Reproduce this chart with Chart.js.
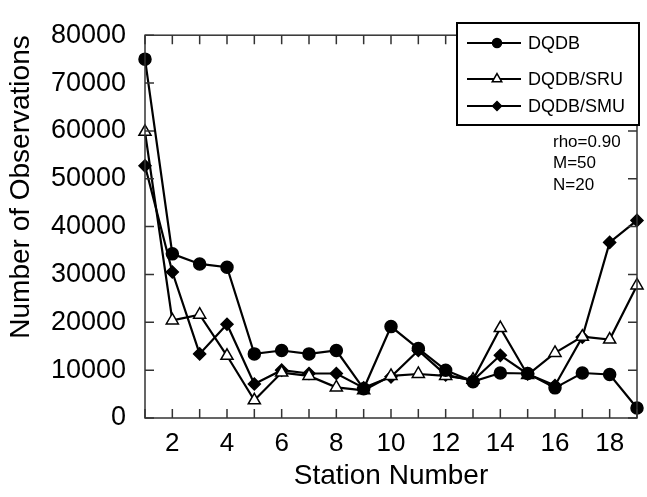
<!DOCTYPE html>
<html lang="en">
<head>
    <meta charset="UTF-8">
    <title>Number of Observations</title>
    <script src="https://cdn.jsdelivr.net/npm/chart.js"></script>
    <style>
        body { margin: 0; background: #ffffff; }
        #wrap { width: 647px; height: 497px; }
    </style>
</head>
<body>
    <div id="wrap"><canvas id="chart" width="647" height="497"></canvas></div>
    <script>
        const stations = [1, 2, 3, 4, 5, 6, 7, 8, 9, 10, 11, 12, 13, 14, 15, 16, 17, 18, 19];
        const dqdb = [75000, 34300, 32200, 31500, 13400, 14100, 13400, 14100, 6100, 19100, 14500, 10000, 7600, 9400, 9300, 6300, 9400, 9100, 2100];
        const dqdbSru = [59800, 20400, 21600, 13000, 3700, 9500, 8800, 6400, 5800, 8800, 9200, 8800, 8000, 18800, 9000, 13600, 17000, 16400, 27700];
        const dqdbSmu = [52700, 30500, 13400, 19600, 7100, 10000, 9300, 9300, 6300, 8600, 14100, 9000, 7800, 13100, 9200, 6800, 16900, 36700, 41300];
        const xTickLabels = [2, 4, 6, 8, 10, 12, 14, 16, 18];
        const yTicks = [0, 10000, 20000, 30000, 40000, 50000, 60000, 70000, 80000];
        const notes = ['rho=0.90', 'M=50', 'N=20'];

        const FONT = 'Liberation Sans, Arial, Helvetica, sans-serif';

        function pts(values) {
            return stations.map((s, i) => ({ x: s, y: values[i] }));
        }

        // frame, inward ticks, legend box, notes and the y title
        const decor = {
            id: 'decor',
            afterDraw(chart) {
                const ctx = chart.ctx;
                const a = chart.chartArea;
                const xs = chart.scales.x, ys = chart.scales.y;
                ctx.save();
                ctx.strokeStyle = '#333';
                ctx.lineWidth = 1.5;
                ctx.strokeRect(a.left, a.top, a.right - a.left, a.bottom - a.top);
                ctx.beginPath();
                stations.forEach(s => {
                    const px = xs.getPixelForValue(s);
                    ctx.moveTo(px, a.bottom); ctx.lineTo(px, a.bottom - 9);
                    ctx.moveTo(px, a.top); ctx.lineTo(px, a.top + 9);
                });
                yTicks.forEach(v => {
                    const py = ys.getPixelForValue(v);
                    ctx.moveTo(a.left, py); ctx.lineTo(a.left + 9, py);
                    ctx.moveTo(a.right, py); ctx.lineTo(a.right - 9, py);
                });
                ctx.stroke();

                // legend
                const lx = 457, ly = 23, lw = 182, lh = 102;
                ctx.fillStyle = '#fff';
                ctx.fillRect(lx, ly, lw, lh);
                ctx.strokeStyle = '#000';
                ctx.lineWidth = 2;
                ctx.strokeRect(lx, ly, lw, lh);
                const rows = [43, 79, 106];
                chart.data.datasets.forEach((ds, i) => {
                    const y = rows[i];
                    ctx.strokeStyle = '#000';
                    ctx.lineWidth = 2;
                    ctx.beginPath();
                    ctx.moveTo(467, y); ctx.lineTo(521, y);
                    ctx.stroke();
                    ctx.fillStyle = ds.pointBackgroundColor;
                    ctx.lineWidth = 1.5;
                    Chart.helpers.drawPoint(ctx, {
                        pointStyle: ds.pointStyle,
                        radius: ds.pointRadius - 1.5,
                        borderWidth: 1.5
                    }, 497, y);
                    ctx.fillStyle = '#000';
                    ctx.font = '18px ' + FONT;
                    ctx.textAlign = 'left';
                    ctx.textBaseline = 'middle';
                    ctx.fillText(ds.label, 528, y + 1);
                });

                // notes
                ctx.font = '17px ' + FONT;
                ctx.fillStyle = '#000';
                ctx.textBaseline = 'middle';
                notes.forEach((t, i) => ctx.fillText(t, 553, 142 + i * 21.5));

                // y title
                ctx.translate(21, 187);
                ctx.rotate(-Math.PI / 2);
                ctx.textAlign = 'center';
                ctx.font = '28px ' + FONT;
                ctx.fillText('Number of Observations', 0, 0);
                ctx.restore();
            }
        };

        const common = { borderColor: '#000', borderWidth: 2.2, pointBorderColor: '#000', pointBorderWidth: 1.5, tension: 0, clip: false };

        new Chart(document.getElementById('chart'), {
            type: 'line',
            data: {
                datasets: [
                    { ...common, label: 'DQDB', data: pts(dqdb), pointStyle: 'circle', pointRadius: 6, pointBackgroundColor: '#000' },
                    { ...common, label: 'DQDB/SRU', data: pts(dqdbSru), pointStyle: 'triangle', pointRadius: 7, pointBackgroundColor: '#fff' },
                    { ...common, label: 'DQDB/SMU', data: pts(dqdbSmu), pointStyle: 'rectRot', pointRadius: 6, pointBackgroundColor: '#000' }
                ]
            },
            options: {
                responsive: false,
                animation: false,
                layout: { padding: { top: 19, right: 2, left: 0, bottom: 0 } },
                plugins: { legend: { display: false }, tooltip: { enabled: false } },
                scales: {
                    x: {
                        type: 'linear',
                        min: 1,
                        max: 19,
                        grid: { display: false, drawTicks: false },
                        border: { display: false },
                        afterBuildTicks: (s) => { s.ticks = stations.map(v => ({ value: v })); },
                        afterFit: (s) => { s.height = 79; },
                        ticks: {
                            autoSkip: false,
                            maxRotation: 0,
                            padding: 10,
                            color: '#000',
                            font: { family: FONT, size: 26 },
                            callback: (v) => xTickLabels.includes(v) ? String(v) : ''
                        },
                        title: {
                            display: true,
                            text: 'Station Number',
                            color: '#000',
                            font: { family: FONT, size: 28 },
                            padding: { top: 0, bottom: 4 }
                        }
                    },
                    y: {
                        min: 0,
                        max: 80000,
                        grid: { display: false, drawTicks: false },
                        border: { display: false },
                        afterBuildTicks: (s) => { s.ticks = yTicks.map(v => ({ value: v })); },
                        afterFit: (s) => { s.width = 145; },
                        ticks: {
                            padding: 19,
                            color: '#000',
                            font: { family: FONT, size: 27 },
                            callback: (v) => String(v)
                        }
                    }
                }
            },
            plugins: [decor]
        });
    </script>
</body>
</html>
